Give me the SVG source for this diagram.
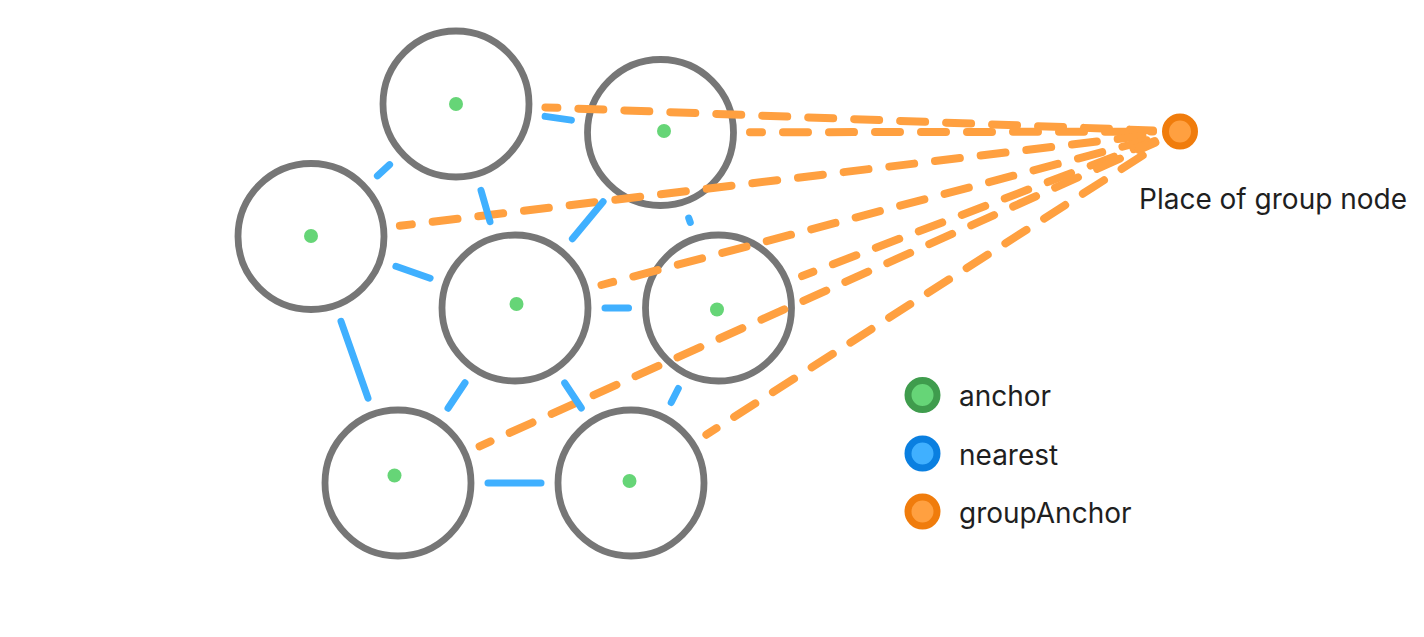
<svg xmlns="http://www.w3.org/2000/svg" width="1424" height="637" viewBox="0 0 1424 637">
  <style>
    .node { fill: none; stroke: #767676; stroke-width: 6.8; }
    .anchor { fill: #66d577; }
    .nearest { stroke: #40b0ff; stroke-width: 7; stroke-linecap: round; fill: none; }
    .group { stroke: #ffa040; stroke-width: 8; stroke-linecap: round; fill: none; stroke-dasharray: 25 21; stroke-dashoffset: 13; }
    .label { font-family: Inter, "Noto Sans", "Liberation Sans", sans-serif; font-size: 28px; fill: #1f1f1f; }
    .dot-anchor { fill: #66d577; stroke: #3f9c4d; stroke-width: 7; }
    .dot-nearest { fill: #40b0ff; stroke: #0a7fe0; stroke-width: 7; }
    .dot-group { fill: #ffa040; stroke: #f07c0c; stroke-width: 7; }
  </style>

  <!-- node outlines -->
  <g id="nodes">
    <g id="n1"><circle class="node" cx="456" cy="104" r="73"/></g>
    <g id="n2"><circle class="node" cx="660.5" cy="132.5" r="73"/></g>
    <g id="n3"><circle class="node" cx="311" cy="236.5" r="73"/></g>
    <g id="n4"><circle class="node" cx="515" cy="308" r="73"/></g>
    <g id="n5"><circle class="node" cx="718.5" cy="308" r="73"/></g>
    <g id="n6"><circle class="node" cx="398" cy="483" r="73"/></g>
    <g id="n7"><circle class="node" cx="631" cy="483" r="73"/></g>
  </g>

  <!-- connectors: dashed lines to the group anchor, solid nearest-neighbour links -->
  <g id="connectors">
    <g id="group-links">
      <line class="group" x1="545.4" y1="107.4" x2="1153" y2="130.5"/>
      <line class="group" x1="750" y1="132.3" x2="1153" y2="131.6"/>
      <line class="group" x1="399.9" y1="225.8" x2="1153.2" y2="134.7"/>
      <line class="group" x1="601.5" y1="285" x2="1153.9" y2="138.4"/>
      <line class="group" x1="802.1" y1="276" x2="1154.8" y2="141.1"/>
      <line class="group" x1="479.6" y1="446.3" x2="1155.4" y2="142.6"/>
      <line class="group" x1="706.4" y1="434.7" x2="1157.3" y2="146.1"/>
    </g>
    <g id="nearest-links">
      <line class="nearest" x1="545.1" y1="116.4" x2="571.4" y2="120.1"/>
      <line class="nearest" x1="389.6" y1="164.7" x2="377.4" y2="175.8"/>
      <line class="nearest" x1="481" y1="190.4" x2="490" y2="221.6"/>
      <line class="nearest" x1="603.1" y1="201.8" x2="572.4" y2="238.7"/>
      <line class="nearest" x1="688.7" y1="218" x2="690.3" y2="222.5"/>
      <line class="nearest" x1="395.9" y1="266.3" x2="430.1" y2="278.2"/>
      <line class="nearest" x1="341" y1="321.4" x2="368" y2="398.1"/>
      <line class="nearest" x1="605" y1="308" x2="628.5" y2="308"/>
      <line class="nearest" x1="465" y1="382.8" x2="448" y2="408.2"/>
      <line class="nearest" x1="564.7" y1="383" x2="581.3" y2="408"/>
      <line class="nearest" x1="678.3" y1="388.5" x2="671.2" y2="402.5"/>
      <line class="nearest" x1="488" y1="483" x2="541" y2="483"/>
    </g>
  </g>

  <!-- anchor points inside each node -->
  <g id="anchors">
    <circle class="anchor" cx="456" cy="104" r="7"/>
    <circle class="anchor" cx="664" cy="131" r="7"/>
    <circle class="anchor" cx="311" cy="236" r="7"/>
    <circle class="anchor" cx="516.5" cy="304" r="7"/>
    <circle class="anchor" cx="717" cy="309.5" r="7"/>
    <circle class="anchor" cx="394.5" cy="475.5" r="7"/>
    <circle class="anchor" cx="629.5" cy="481" r="7"/>
  </g>

  <!-- group node placement -->
  <g id="group-node">
    <circle class="dot-group" cx="1180" cy="131.5" r="14.5"/>
    <text class="label" x="1139" y="209">Place of group node</text>
  </g>

  <!-- legend -->
  <g id="legend">
    <g id="legend-anchor">
      <circle class="dot-anchor" cx="922.5" cy="395" r="14.5"/>
      <text class="label" x="959" y="406">anchor</text>
    </g>
    <g id="legend-nearest">
      <circle class="dot-nearest" cx="922.5" cy="453.5" r="14.5"/>
      <text class="label" x="959" y="465">nearest</text>
    </g>
    <g id="legend-group">
      <circle class="dot-group" cx="922.5" cy="511.5" r="14.5"/>
      <text class="label" x="959" y="523">groupAnchor</text>
    </g>
  </g>
</svg>
